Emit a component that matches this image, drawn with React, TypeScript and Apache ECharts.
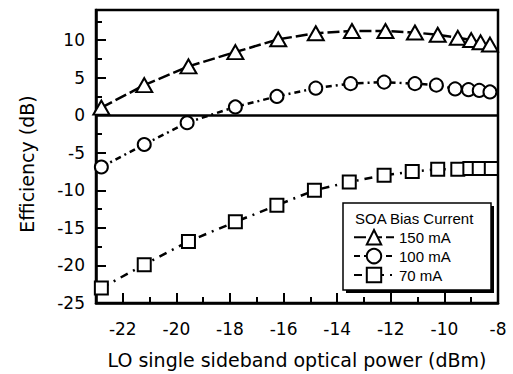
import React, { useEffect, useRef } from "react";
import * as echarts from "echarts";

// LO single sideband optical power (dBm) and efficiency (dB) per SOA bias current
const x150 = [-22.8, -21.2, -19.55, -17.8, -16.2, -14.8, -13.45, -12.2, -11.1, -10.25, -9.5, -9.0, -8.65, -8.3];
const y150 = [1.0, 4.0, 6.5, 8.4, 10.1, 10.9, 11.2, 11.2, 11.0, 10.7, 10.3, 10.0, 9.7, 9.4];

const x100 = [-22.8, -21.2, -19.6, -17.8, -16.25, -14.8, -13.5, -12.25, -11.1, -10.3, -9.6, -9.1, -8.7, -8.3];
const y100 = [-6.9, -3.9, -1.0, 1.1, 2.5, 3.6, 4.2, 4.4, 4.2, 4.0, 3.5, 3.4, 3.3, 3.1];

const x70 = [-22.8, -21.2, -19.55, -17.8, -16.25, -14.85, -13.55, -12.25, -11.2, -10.25, -9.5, -9.05, -8.7, -8.25];
const y70 = [-23.0, -19.9, -16.8, -14.2, -12.0, -10.0, -8.9, -8.0, -7.5, -7.2, -7.2, -7.1, -7.1, -7.1];

const seriesNames = ["150 mA", "100 mA", "70 mA"];
const legendTitle = "SOA Bias Current";
const xTitle = "LO single sideband optical power (dBm)";
const yTitle = "Efficiency (dB)";

const xMajorTicks = [-22, -20, -18, -16, -14, -12, -10, -8];
const xMinorTicks = [-21, -19, -17, -15, -13, -11, -9];
const yMajorTicks = [-25, -20, -15, -10, -5, 0, 5, 10];
const yMinorTicks = [-22.5, -17.5, -12.5, -7.5, -2.5, 2.5, 7.5, 12.5];

const AX_FONT = "DejaVu Sans";
const LEG_FONT = "Liberation Sans, Arial, sans-serif";

function pairs(xs: number[], ys: number[]) {
  return xs.map((x, i) => [x, ys[i]]);
}

export default function App() {
  const ref = useRef<HTMLDivElement>(null);

  useEffect(() => {
    if (!ref.current) return;
    const chart = echarts.init(ref.current, null, { renderer: "svg" });

    const markerStyle = { color: "#fff", borderColor: "#000", borderWidth: 2 };

    const option: any = {
      animation: false,
      backgroundColor: "#fff",
      grid: {
        left: 96,
        right: 15,
        top: 10,
        bottom: 69,
        show: true,
        borderColor: "#000",
        borderWidth: 2.5,
        backgroundColor: "transparent",
      },
      xAxis: [
        {
          type: "value",
          min: -23,
          max: -8,
          position: "bottom",
          splitLine: { show: false },
          axisLine: { onZero: false, lineStyle: { color: "#000", width: 2.5 } },
          axisTick: {
            inside: true,
            length: 10,
            customValues: xMajorTicks,
            lineStyle: { color: "#000", width: 2 },
          },
          axisLabel: {
            customValues: xMajorTicks,
            margin: 17,
            color: "#000",
            fontFamily: AX_FONT,
            fontSize: 17,
          },
          name: xTitle,
          nameLocation: "middle",
          nameGap: 47,
          nameTextStyle: { color: "#000", fontFamily: AX_FONT, fontSize: 19 },
        },
        {
          type: "value",
          min: -23,
          max: -8,
          position: "bottom",
          splitLine: { show: false },
          axisLine: { show: false, onZero: false },
          axisTick: {
            inside: true,
            length: 6,
            customValues: xMinorTicks,
            lineStyle: { color: "#000", width: 2 },
          },
          axisLabel: { show: false },
        },
      ],
      yAxis: [
        {
          type: "value",
          min: -25,
          max: 14,
          position: "left",
          splitLine: { show: false },
          axisLine: { onZero: false, lineStyle: { color: "#000", width: 2.5 } },
          axisTick: {
            inside: true,
            length: 10,
            customValues: yMajorTicks,
            lineStyle: { color: "#000", width: 2 },
          },
          axisLabel: {
            customValues: yMajorTicks,
            margin: 11,
            color: "#000",
            fontFamily: AX_FONT,
            fontSize: 17,
          },
        },
        {
          type: "value",
          min: -25,
          max: 14,
          position: "left",
          splitLine: { show: false },
          axisLine: { show: false, onZero: false },
          axisTick: {
            inside: true,
            length: 6,
            customValues: yMinorTicks,
            lineStyle: { color: "#000", width: 2 },
          },
          axisLabel: { show: false },
        },
      ],
      legend: {
        show: true,
        orient: "vertical",
        left: 353,
        top: 229,
        padding: 0,
        itemWidth: 40,
        itemHeight: 18,
        itemGap: 2.5,
        selectedMode: false,
        z: 20,
        data: seriesNames,
        textStyle: { color: "#000", fontFamily: LEG_FONT, fontSize: 15, lineHeight: 16 },
      },
      graphic: [
        {
          type: "rect",
          z: 10,
          shape: { x: 346, y: 206, width: 148, height: 87 },
          style: { fill: "#000" },
          silent: true,
        },
        {
          type: "rect",
          z: 11,
          shape: { x: 343, y: 203, width: 148, height: 87 },
          style: { fill: "#fff", stroke: "#000", lineWidth: 1.5 },
          silent: true,
        },
        {
          type: "text",
          z: 12,
          x: 355,
          y: 218,
          style: {
            text: legendTitle,
            fill: "#000",
            font: `15px ${LEG_FONT}`,
            align: "left",
            verticalAlign: "middle",
          },
          silent: true,
        },
        {
          type: "text",
          x: 27,
          y: 164,
          rotation: Math.PI / 2,
          style: {
            text: yTitle,
            fill: "#000",
            font: `19px ${AX_FONT}`,
            align: "center",
            verticalAlign: "middle",
          },
          silent: true,
        },
      ],
      series: [
        {
          name: seriesNames[0],
          type: "line",
          xAxisIndex: 0,
          yAxisIndex: 0,
          data: pairs(x150, y150),
          symbol: "triangle",
          symbolSize: [16, 14],
          itemStyle: markerStyle,
          lineStyle: { color: "#000", width: 2.5, type: [12, 4] },
          z: 3,
          markLine: {
            silent: true,
            symbol: ["none", "none"],
            label: { show: false },
            lineStyle: { color: "#000", width: 2.5, type: "solid" },
            data: [{ yAxis: 0 }],
          },
        },
        {
          name: seriesNames[1],
          type: "line",
          xAxisIndex: 0,
          yAxisIndex: 0,
          data: pairs(x100, y100),
          symbol: "circle",
          symbolSize: 13,
          itemStyle: markerStyle,
          lineStyle: { color: "#000", width: 2.5, type: [6, 4, 2, 4] },
          z: 3,
        },
        {
          name: seriesNames[2],
          type: "line",
          xAxisIndex: 0,
          yAxisIndex: 0,
          data: pairs(x70, y70),
          symbol: "rect",
          symbolSize: 13,
          itemStyle: markerStyle,
          lineStyle: { color: "#000", width: 2.5, type: [8, 6, 2, 6] },
          z: 3,
        },
      ],
    };

    chart.setOption(option);
    return () => chart.dispose();
  }, []);

  return (
    <div
      ref={ref}
      style={{ position: "fixed", left: 0, top: 0, width: 513, height: 374, background: "#fff" }}
    />
  );
}
